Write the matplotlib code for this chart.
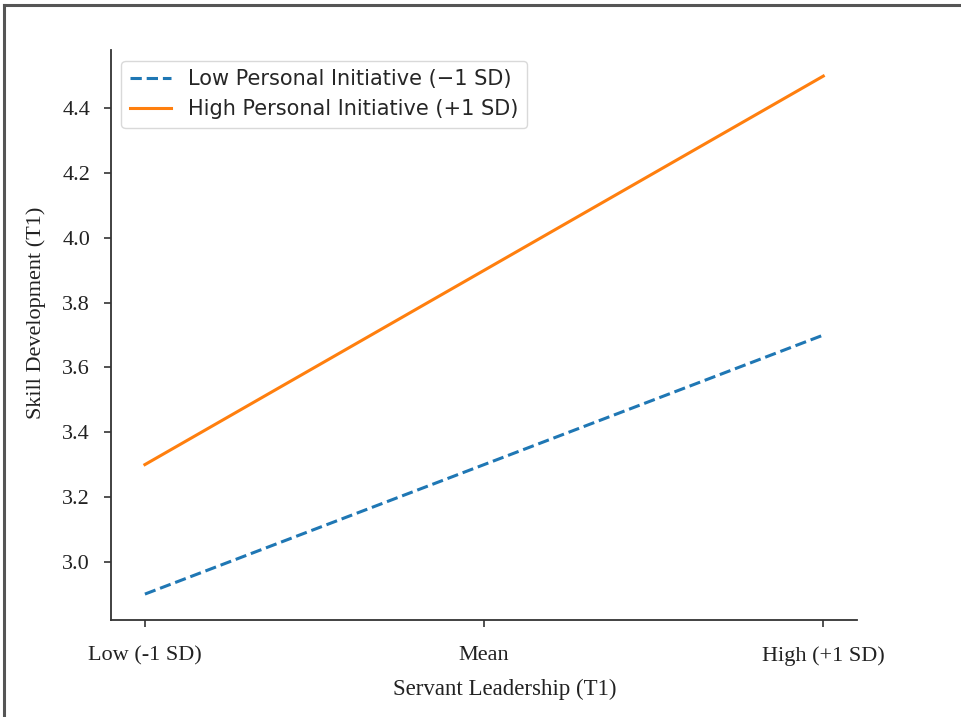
"""Simple slopes plot: servant leadership x personal initiative on skill development."""

import matplotlib

matplotlib.use("Agg")
import matplotlib.pyplot as plt
from matplotlib.lines import Line2D


LEVELS = ["Low (-1 SD)", "Mean", "High (+1 SD)"]
LOW_INITIATIVE = [2.9, 3.3, 3.7]
HIGH_INITIATIVE = [3.3, 3.9, 4.5]
Y_TICKS = [3.0, 3.2, 3.4, 3.6, 3.8, 4.0, 4.2, 4.4]

BLUE = "#1f77b4"
ORANGE = "#ff7f0e"
SERIF = ["Liberation Serif", "DejaVu Serif"]


def main():
    fig = plt.figure(figsize=(9.61, 7.17), dpi=100)
    ax = fig.add_axes([0.1155, 0.1353, 0.7765, 0.7947])

    x = range(len(LEVELS))
    ax.plot(x, LOW_INITIATIVE, color=BLUE, linestyle="--", linewidth=2.2,
            label="Low Personal Initiative (\u22121 SD)")
    ax.plot(x, HIGH_INITIATIVE, color=ORANGE, linestyle="-", linewidth=2.2,
            label="High Personal Initiative (+1 SD)")

    ax.set_xticks(list(x))
    ax.set_xticklabels(LEVELS, family=SERIF, fontsize=16)
    ax.set_yticks(Y_TICKS)
    ax.set_yticklabels([f"{v:.1f}" for v in Y_TICKS], family=SERIF, fontsize=16)
    ax.tick_params(axis="x", pad=14, length=5, width=1.2, colors="#333333")
    ax.tick_params(axis="y", pad=10, length=5, width=1.2, colors="#333333")
    for label in ax.get_xticklabels() + ax.get_yticklabels():
        label.set_color("#222222")

    ax.set_xlabel("Servant Leadership (T1)", family=SERIF, fontsize=16.5,
                  labelpad=9, color="#222222")
    ax.set_ylabel("Skill Development (T1)", family=SERIF, fontsize=16,
                  labelpad=12, color="#222222")
    # axis titles sit slightly off-centre
    ax.xaxis.label.set_x(0.528)
    ax.yaxis.label.set_y(0.539)

    ax.spines["top"].set_visible(False)
    ax.spines["right"].set_visible(False)
    for side in ("left", "bottom"):
        ax.spines[side].set_linewidth(1.3)
        ax.spines[side].set_color("#333333")

    legend = ax.legend(loc="upper left", fontsize=15, frameon=True)
    legend.get_frame().set_edgecolor("#d0d0d0")
    for text in legend.get_texts():
        text.set_color("#262626")

    # thin dark frame along the top and left edges of the canvas
    fig.add_artist(Line2D([0.0045, 0.0045], [0.0, 0.993], transform=fig.transFigure,
                          color="#555555", linewidth=2.2))
    fig.add_artist(Line2D([0.0045, 1.0], [0.993, 0.993], transform=fig.transFigure,
                          color="#555555", linewidth=2.2))

    fig.savefig("out.png", dpi=100)
    plt.close(fig)


if __name__ == "__main__":
    main()
